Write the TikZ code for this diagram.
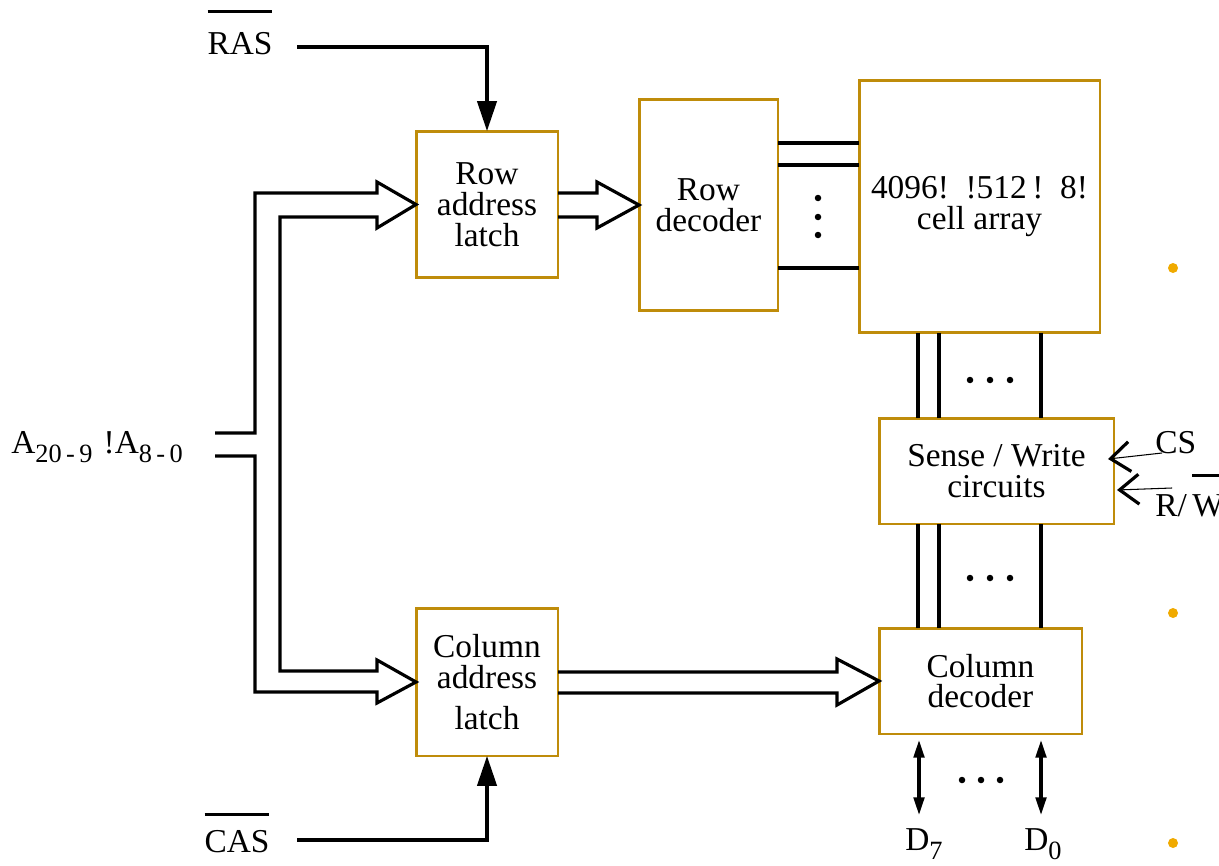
\documentclass[tikz,border=0pt]{standalone}
\usepackage{fontspec}
\setmainfont{Liberation Serif}
\usetikzlibrary{arrows.meta,calc}
\definecolor{boxgold}{RGB}{191,140,10}
\definecolor{bulletor}{RGB}{240,170,0}
\newcommand{\myovl}[2]{\setbox0=\hbox{#2}\rlap{\raisebox{#1}{\rule{\wd0}{1.8pt}}}\box0}
\newcommand{\mysub}[1]{\raisebox{-5.5pt}{\fontsize{15}{15}\selectfont #1}}
\begin{document}
\begin{tikzpicture}[x=0.02cm,y=-0.02cm,
  font=\fontsize{19}{17.5}\selectfont,
  box/.style={draw=boxgold, line width=1.7pt, inner sep=0pt, outer sep=0pt, align=center},
  wire/.style={line width=1.8pt},
  fat/.style={line width=1.8pt, line join=miter},
  sigarrow/.style={wire, -{Triangle[length=17pt,width=11pt]}},
  dbl/.style={wire, {Triangle[length=10pt,width=6pt]}-{Triangle[length=10pt,width=6pt]}},
  chev/.style={line width=0.6pt, -{Straight Barb[length=11pt,width=17pt,line width=1.8pt]}},
  dotmark/.style={fill=black},
  bullet/.style={fill=bulletor}]
\useasboundingbox (0,0) rectangle (1219,865);

% boxes
\node[box, minimum width=2.84cm, minimum height=2.94cm] (ral) at (487,204.5) {Row\\address\\latch};
\node[box, minimum width=2.78cm, minimum height=4.24cm] (rdec) at (708.5,205) {Row\\decoder};
\node[box, minimum width=4.82cm, minimum height=5.06cm] (cell) at (979.5,206.5) {4096!\ \ !512\,!\ \ 8!\\cell array};
\node[box, minimum width=4.70cm, minimum height=2.12cm] (sw) at (996.5,471) {Sense / Write\\circuits};
\node[box, minimum width=2.84cm, minimum height=2.96cm] (cal) at (487,682) {Column\\address\\[6pt]latch};
\node[box, minimum width=4.06cm, minimum height=2.12cm] (cdec) at (980.5,681) {Column\\decoder};

% labels
\node[anchor=base, inner sep=0pt] (ras) at (240,55) {\myovl{24pt}{RAS}};
\node[anchor=base, inner sep=0pt] (cas) at (237,852) {\myovl{20.5pt}{CAS}};
\node[anchor=base west, inner sep=0pt] (addr) at (11,453) {A\mysub{20\,-\,9}\,\,!A\mysub{8\,-\,0}};
\node[anchor=base west, inner sep=0pt] (cs) at (1155,453) {CS};
\node[anchor=base west, inner sep=0pt] (rw) at (1155,516) {R/\,\myovl{22pt}{W}};
\node[anchor=base west, inner sep=0pt] (d7) at (905,850) {D\mysub{7}};
\node[anchor=base west, inner sep=0pt] (d0) at (1024,850) {D\mysub{0}};

% RAS / CAS
\coordinate (rasout) at (297,47);
\coordinate (casout) at (297,840);
\draw[sigarrow] (rasout) -| (ral.north);
\draw[sigarrow] (casout) -| (cal.south);

% address bus (fat arrows)
\draw[fat] (215,433) -- (255,433) -- (255,193) -- (377,193) -- (377,182) -- (ral.west)
  -- (377,228) -- (377,217) -- (280,217) -- (280,671) -- (377,671) -- (377,660) -- (cal.west)
  -- (377,703) -- (377,692) -- (255,692) -- (255,456) -- (215,456);
\draw[fat] (558,193) -- (597,193) -- (597,182) -- (rdec.west) -- (597,228) -- (597,217) -- (558,217);
\draw[fat] (558,672) -- (837,672) -- (837,659) -- (cdec.west) -- (837,705) -- (837,693) -- (558,693);

% row lines
\foreach \yy in {143,165,268} \draw[wire] (rdec.east |- 0,\yy) -- (cell.west |- 0,\yy);
\foreach \yy in {198,217,235} \fill[dotmark] (818,\yy) circle (0.065cm);

% column lines
\foreach \xx in {918,939,1041} {
  \draw[wire] (cell.south -| \xx,0) -- (sw.north -| \xx,0);
  \draw[wire] (sw.south -| \xx,0) -- (cdec.north -| \xx,0);
}
\foreach \xx in {970,990,1010} {
  \fill[dotmark] (\xx,380) circle (0.065cm);
  \fill[dotmark] (\xx,578) circle (0.065cm);
}
\foreach \xx in {962,981,1000} \fill[dotmark] (\xx,780) circle (0.065cm);

% data lines
\coordinate (d7end) at (919,815);
\coordinate (d0end) at (1041,815);
\draw[dbl, shorten >=0.12cm] (d7end) -- (cdec.south -| d7end);
\draw[dbl, shorten >=0.12cm] (d0end) -- (cdec.south -| d0end);

% control inputs
\draw[chev] (1162,453) -- ($(sw.east)+(-6,-12)$);
\draw[chev] (1172,488) -- ($(sw.east)+(3,19)$);

% bullets
\foreach \yy in {268,613,843} \fill[bullet] (1173,\yy) circle (0.1cm);
\end{tikzpicture}
\end{document}
